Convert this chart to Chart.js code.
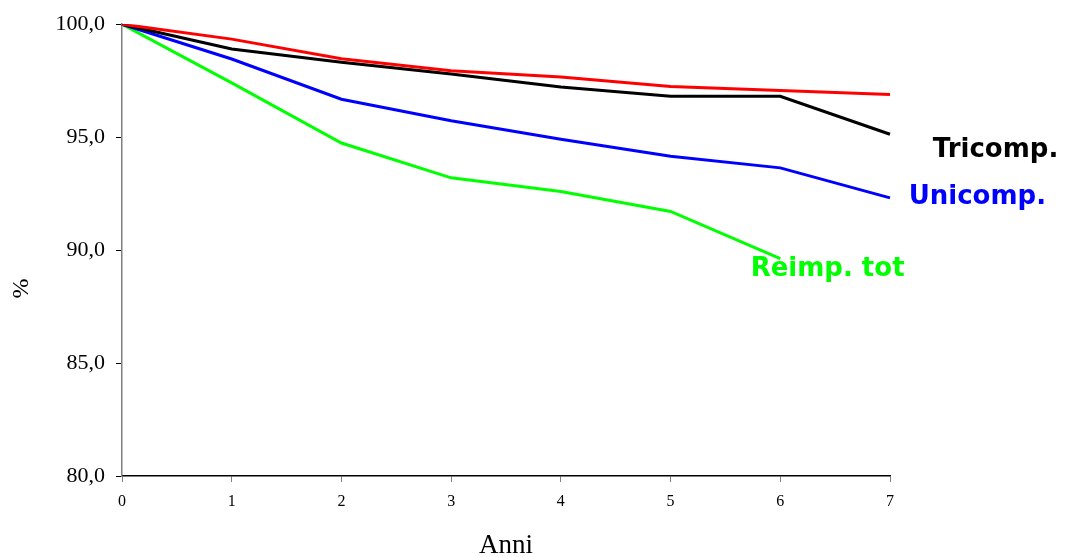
<!DOCTYPE html>
<html lang="it">
<head>
    <meta charset="UTF-8">
    <title>Sopravvivenza impianti</title>
    <script src="https://cdn.jsdelivr.net/npm/chart.js"></script>
    <style>
        html, body { margin: 0; padding: 0; background: #fff; }
        #wrap { width: 1065px; height: 557px; }
    </style>
</head>
<body>
    <div id="wrap"><canvas id="survChart" width="1065" height="557"></canvas></div>

    <script>
        // Anni di follow-up
        const anni = ["0", "1", "2", "3", "4", "5", "6", "7"];

        // Valori (%)
        const globale   = [100, 99.34, 98.47, 97.94, 97.66, 97.24, 97.07, 96.89];
        const tricomp   = [100, 98.90, 98.32, 97.80, 97.22, 96.81, 96.81, 95.13];
        const unicomp   = [100, 98.46, 96.68, 95.73, 94.91, 94.15, 93.64, 92.31];
        const reimpTot  = [100, 97.40, 94.74, 93.20, 92.59, 91.71, 89.62, null];

        const yTicks = [80, 85, 90, 95, 100];

        // Etichette di testo accanto alle curve (coordinate nei valori degli assi)
        const etichette = [
            { text: "Tricomp.",   x: 7.39, y: 94.12, color: "#000000" },
            { text: "Unicomp.",   x: 7.17, y: 92.06, color: "#0000ff" },
            { text: "Reimp. tot", x: 5.73, y: 88.86, color: "#00ff00" }
        ];

        const labelPlugin = {
            id: "curveLabels",
            afterDatasetsDraw(chart) {
                const ctx = chart.ctx;
                const xs = chart.scales.x, ys = chart.scales.y;
                ctx.save();
                ctx.font = "bold 26px 'DejaVu Sans'";
                ctx.textBaseline = "alphabetic";
                ctx.textAlign = "left";
                etichette.forEach(e => {
                    ctx.fillStyle = e.color;
                    ctx.fillText(e.text, xs.getPixelForValue(e.x), ys.getPixelForValue(e.y));
                });
                // titolo asse y, un po' sotto il centro come nell'originale
                ctx.fillStyle = "#000000";
                ctx.font = "24px 'Liberation Serif'";
                ctx.textAlign = "center";
                ctx.textBaseline = "middle";
                ctx.translate(22, ys.getPixelForValue(88.3));
                ctx.rotate(-Math.PI / 2);
                ctx.fillText("%", 0, 0);
                ctx.restore();
            }
        };

        const serie = (label, data, color) => ({
            label: label,
            data: data,
            borderColor: color,
            backgroundColor: color,
            borderWidth: 3,
            pointRadius: 0,
            tension: 0,
            fill: false,
            spanGaps: false
        });

        new Chart(document.getElementById("survChart"), {
            type: "line",
            data: {
                labels: anni,
                datasets: [
                    serie("Globale", globale, "#ff0000"),
                    serie("Tricomp.", tricomp, "#000000"),
                    serie("Unicomp.", unicomp, "#0000ff"),
                    serie("Reimp. tot", reimpTot, "#00ff00")
                ]
            },
            options: {
                responsive: false,
                animation: false,
                layout: { padding: { left: 0, right: 175, top: 17, bottom: 0 } },
                plugins: {
                    legend: { display: false },
                    tooltip: { enabled: false }
                },
                scales: {
                    x: {
                        offset: false,
                        grid: { display: true, drawOnChartArea: false, tickLength: 6, color: "#808080", offset: false },
                        border: { display: true, color: "#000000", width: 1.5 },
                        ticks: {
                            color: "#000000",
                            padding: 10,
                            maxRotation: 0,
                            font: { family: "'Liberation Serif'", size: 16 }
                        },
                        title: {
                            display: true,
                            text: "Anni",
                            color: "#000000",
                            padding: { top: 0, bottom: 0 },
                            font: { family: "'Liberation Serif'", size: 27, lineHeight: 0.8 }
                        },
                        afterFit(scale) { scale.height = 81; }
                    },
                    y: {
                        min: 80,
                        max: 100,
                        afterBuildTicks(scale) { scale.ticks = yTicks.map(v => ({ value: v })); },
                        grid: { display: true, drawOnChartArea: false, tickLength: 6, color: "#000000" },
                        border: { display: true, color: "#808080", width: 1.5 },
                        ticks: {
                            color: "#000000",
                            padding: 11,
                            font: { family: "'Liberation Serif'", size: 22 },
                            callback: v => v.toFixed(1).replace(".", ",")
                        },
                        afterFit(scale) { scale.width = 122; }
                    }
                }
            },
            plugins: [labelPlugin]
        });
    </script>
</body>
</html>
